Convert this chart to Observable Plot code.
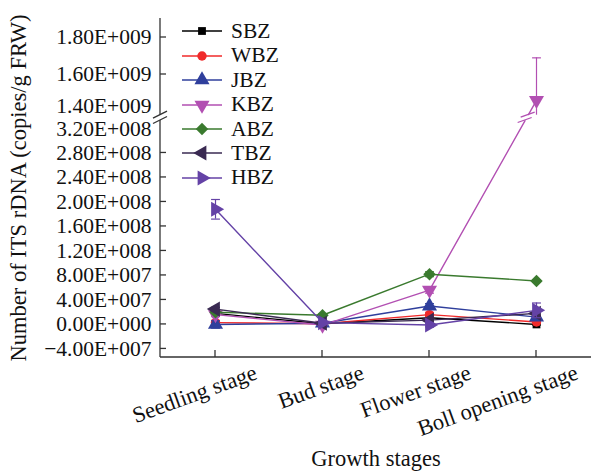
<!DOCTYPE html>
<html><head><meta charset="utf-8">
<script src="https://cdn.jsdelivr.net/npm/d3@7"></script>
<script src="https://cdn.jsdelivr.net/npm/@observablehq/plot@0.6"></script>
<style>
body{margin:0;background:#fff;}
#wrap{position:relative;width:591px;height:471px;font-family:"Liberation Serif","Times New Roman",serif;}
.row{position:absolute;left:182px;height:24px;display:flex;align-items:center;white-space:nowrap;font-size:21.5px;color:#111;}
.row svg{margin-right:7px;}
</style></head><body><div id="wrap"></div>
<script>
// ---- data ----
const stages = ["Seedling stage", "Bud stage", "Flower stage", "Boll opening stage"];
const seriesNames = ["SBZ", "WBZ", "JBZ", "KBZ", "ABZ", "TBZ", "HBZ"];
const SBZ = [1.8e7, 1e6, 1.1e7, 0];
const WBZ = [3e6, 1e6, 1.6e7, 4e6];
const JBZ = [0, 2e6, 3.0e7, 1.2e7];
const KBZ = [1.6e7, -1e6, 5.6e7, 1.46e9];
const ABZ = [2.0e7, 1.5e7, 8.2e7, 7.1e7];
const TBZ = [2.5e7, 2e6, 7e6, 1.8e7];
const HBZ = [1.88e8, 3e6, -1e6, 2.3e7];
const errSBZ = [2e6, 1e6, 3e6, 1e6];
const errWBZ = [2e6, 1e6, 3e6, 2e6];
const errJBZ = [6e6, 1e6, 4e6, 2e6];
const errKBZ = [2e6, 2e6, 5e6, 2.3e8];
const errABZ = [2e6, 2e6, 4e6, 2e6];
const errTBZ = [3e6, 1e6, 3e6, 3e6];
const errHBZ = [1.6e7, 3e6, 3e6, 1.2e7];
const yTicks = [-4e7, 0, 4e7, 8e7, 1.2e8, 1.6e8, 2.0e8, 2.4e8, 2.8e8, 3.2e8, 1.4e9, 1.6e9, 1.8e9];
const colors = ["#000000", "#f02a2a", "#2f3f9c", "#b24fb2", "#3a7a2e", "#3a2a52", "#6442a6"];

const values = [SBZ, WBZ, JBZ, KBZ, ABZ, TBZ, HBZ];
const errors = [errSBZ, errWBZ, errJBZ, errKBZ, errABZ, errTBZ, errHBZ];
const breakLow = 3.33e8, breakHigh = 1.38e9;

// ---- symbols ----
const sqrt3 = Math.sqrt(3);
function triangleSym(deg) {
  const a = deg * Math.PI / 180, c = Math.cos(a), s = Math.sin(a);
  return {draw(ctx, size) {
    const y = -Math.sqrt(size / (sqrt3 * 3));
    const pts = [[0, y * 2], [-sqrt3 * y, -y], [sqrt3 * y, -y]].map(([px, py]) => [px * c - py * s, px * s + py * c]);
    ctx.moveTo(pts[0][0], pts[0][1]); ctx.lineTo(pts[1][0], pts[1][1]); ctx.lineTo(pts[2][0], pts[2][1]); ctx.closePath();
  }};
}
const capSym = {draw(ctx, size) { const w = Math.sqrt(size); ctx.moveTo(-w / 2, 0); ctx.lineTo(w / 2, 0); }};
const symbols = [d3.symbolSquare, d3.symbolCircle, triangleSym(0), triangleSym(180), d3.symbolDiamond2, triangleSym(-90), triangleSym(90)];
const symR = [4.4, 4.7, 5.6, 5.6, 5.6, 5.6, 5.6];

function fmt(v) {
  if (v === 0) return "0.00E+000";
  const e = Math.floor(Math.log10(Math.abs(v)) + 1e-9);
  const m = v / Math.pow(10, e);
  return (m < 0 ? "\u2212" : "") + Math.abs(m).toFixed(2) + "E+" + String(e).padStart(3, "0");
}

const tables = seriesNames.map((name, i) => stages.map((st, j) => {
  const v = values[i][j], e = errors[i][j];
  let lo = v - e;
  const loInGap = lo > breakLow && lo < breakHigh;
  if (loInGap) lo = breakHigh;
  return {series: name, stage: st, value: v, hi: v + e, lo, loCap: !loInGap};
}));

function decor(index, scales, vals, dims) {
  const {x, y} = scales;
  const g = d3.create("svg:g").attr("fill", "none");
  const x0 = dims.marginLeft, x1 = dims.width - dims.marginRight;
  const yb = dims.height - dims.marginBottom, yt = dims.marginTop;
  const ax = g.append("g").attr("stroke", "#333").attr("stroke-width", 1.3);
  ax.append("line").attr("x1", x0).attr("x2", x0).attr("y1", yb).attr("y2", y(breakLow));
  ax.append("line").attr("x1", x0).attr("x2", x0).attr("y1", y(breakHigh)).attr("y2", yt);
  ax.append("line").attr("x1", x0).attr("x2", x1).attr("y1", yb).attr("y2", yb);
  for (const t of yTicks) {
    if (t === 1.4e9 || t === 3.2e8) continue;
    ax.append("line").attr("x1", x0).attr("x2", x0 + 6).attr("y1", y(t)).attr("y2", y(t));
  }
  for (const s of stages) ax.append("line").attr("x1", x(s)).attr("x2", x(s)).attr("y1", yb).attr("y2", yb - 7);
  for (const v of [breakLow, breakHigh]) {
    ax.append("line").attr("x1", x0 - 7).attr("x2", x0 + 7).attr("y1", y(v) + 3.5).attr("y2", y(v) - 3.5);
  }
  // break on the KBZ line
  const k = seriesNames.indexOf("KBZ");
  const p1 = [x(stages[2]), y(values[k][2])], p2 = [x(stages[3]), y(values[k][3])];
  const at = (yy) => { const t = (yy - p1[1]) / (p2[1] - p1[1]); return [p1[0] + t * (p2[0] - p1[0]), yy]; };
  const a = at(y(breakLow)), b = at(y(breakHigh));
  g.append("line").attr("x1", a[0]).attr("y1", a[1]).attr("x2", b[0]).attr("y2", b[1]).attr("stroke", "#fff").attr("stroke-width", 4);
  for (const p of [a, b]) {
    g.append("line").attr("x1", p[0] - 7).attr("x2", p[0] + 7).attr("y1", p[1] + 2.5).attr("y2", p[1] - 2.5)
      .attr("stroke", colors[k]).attr("stroke-width", 1.3);
  }
  return g.node();
}

const marks = [];
seriesNames.forEach((name, i) => {
  const data = tables[i];
  marks.push(Plot.line(data, {x: "stage", y: "value", stroke: colors[i], strokeWidth: 1.4}));
  marks.push(Plot.ruleX(data, {x: "stage", y1: "lo", y2: "hi", stroke: colors[i], strokeWidth: 1.2}));
  marks.push(Plot.dot(data, {x: "stage", y: "hi", symbol: capSym, stroke: colors[i], r: 5, strokeWidth: 1.2}));
  marks.push(Plot.dot(data.filter(d => d.loCap), {x: "stage", y: "lo", symbol: capSym, stroke: colors[i], r: 5, strokeWidth: 1.2}));
  marks.push(Plot.dot(data, {x: "stage", y: "value", symbol: symbols[i], fill: colors[i], stroke: "none", r: symR[i]}));
});

const chart = Plot.plot({
  width: 591, height: 471,
  marginLeft: 160, marginRight: 0, marginTop: 18, marginBottom: 114,
  style: {fontFamily: "Liberation Serif, Times New Roman, serif", fontSize: "22px", color: "#111", background: "#fff"},
  x: {type: "point", domain: stages, padding: 0.5, axis: null},
  y: {type: "linear", domain: [-5.4e7, breakLow, breakHigh, 1.9e9], range: [357, 120, 114.7, 18.5], axis: null},
  marks: [
    Plot.axisY({ticks: yTicks.filter(t => t !== 1.4e9 && t !== 3.2e8), tickSize: 0, tickPadding: 9, tickFormat: fmt, label: null, fontSize: 21.5}),
    Plot.axisY({ticks: [1.4e9], tickSize: 0, tickPadding: 9, tickFormat: fmt, label: null, fontSize: 21.5, dy: -5}),
    Plot.axisY({ticks: [3.2e8], tickSize: 0, tickPadding: 9, tickFormat: fmt, label: null, fontSize: 21.5, dy: 0.5}),
    Plot.text(stages, {x: d => d, text: d => d, frameAnchor: "bottom", rotate: -20, textAnchor: "end", dx: 43, dy: 21, fontSize: 22.5}),
    Plot.text(["Growth stages"], {text: d => d, frameAnchor: "bottom", dy: 108, fontSize: 22.5}),
    Plot.text(["Number of ITS rDNA (copies/g FRW)"], {text: d => d, frameAnchor: "left", textAnchor: "middle", dx: -142, rotate: -90, fontSize: 22.5}),
    ...marks,
    decor
  ]
});

const wrap = document.getElementById("wrap");
wrap.appendChild(chart);

// legend
const legendY = [31, 55.5, 80, 104.5, 129, 153, 177.5];
seriesNames.forEach((name, i) => {
  const row = document.createElement("div");
  row.className = "row";
  row.style.top = (legendY[i] - 12) + "px";
  const svg = d3.create("svg").attr("width", 42).attr("height", 24);
  svg.append("line").attr("x1", 0).attr("x2", 40).attr("y1", 12).attr("y2", 12).attr("stroke", colors[i]).attr("stroke-width", 1.4);
  svg.append("path").attr("transform", "translate(20,12)").attr("fill", colors[i])
    .attr("d", d3.symbol(symbols[i], Math.PI * symR[i] * symR[i])());
  row.appendChild(svg.node());
  const span = document.createElement("span");
  span.textContent = name;
  row.appendChild(span);
  wrap.appendChild(row);
});
</script>
</body></html>
